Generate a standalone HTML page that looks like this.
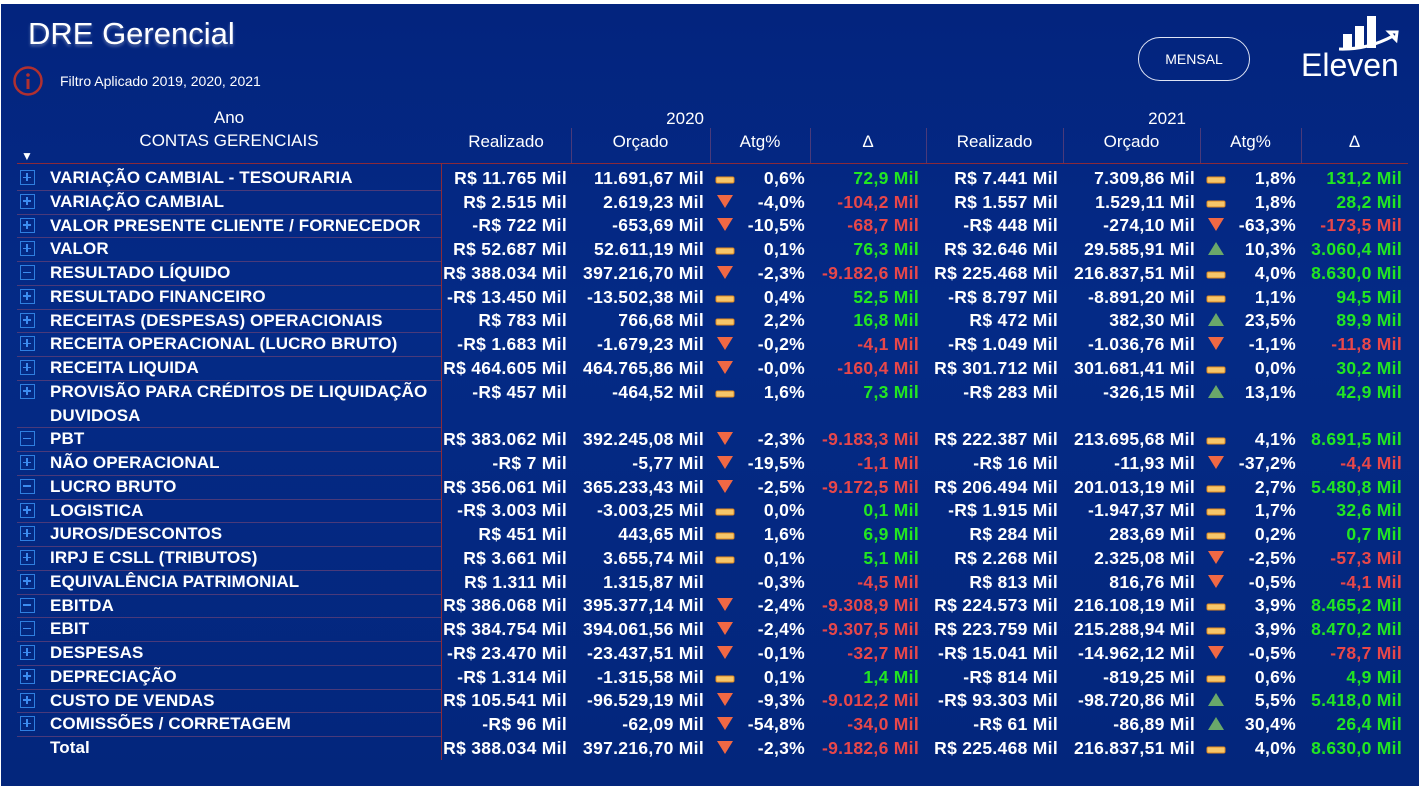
<!DOCTYPE html>
<html><head><meta charset="utf-8">
<style>
*{margin:0;padding:0;box-sizing:border-box}
body{width:1419px;height:786px;overflow:hidden;background:#fff;font-family:"Liberation Sans",sans-serif}
#page{position:absolute;left:1px;top:4px;width:1418px;height:782px;background:linear-gradient(180deg,#03247e 0%,#042a86 40%,#03267c 100%);color:#fff}
.abs{position:absolute;white-space:nowrap}
.t{position:absolute;white-space:nowrap;font-weight:bold;font-size:16px;line-height:20px;text-align:right}
.h{position:absolute;white-space:nowrap;font-size:17px;line-height:20px;text-align:center;color:#fff}
.sep{position:absolute;width:1px;background:#4a3a7a}
</style></head><body>
<div id="page">
  <div class="abs" style="left:27px;top:12px;font-size:31px;color:#fff;text-shadow:0 2px 3px rgba(255,255,255,0.35)">DRE Gerencial</div>
  <svg class="abs" style="left:11px;top:62px" width="32" height="32"><circle cx="16" cy="15" r="13.5" fill="none" stroke="#b03030" stroke-width="2.5"/><rect x="14.5" y="13" width="3" height="10" fill="#b03030"/><circle cx="16" cy="9" r="1.8" fill="#b03030"/></svg>
  <div class="abs" style="left:59px;top:69px;font-size:14px">Filtro Aplicado 2019, 2020, 2021</div>
  <div class="abs" style="left:1137px;top:33px;width:112px;height:44px;border:1px solid #dfe4f5;border-radius:22px;font-size:14px;text-align:center;line-height:42px">MENSAL</div>
  <svg class="abs" style="left:1296px;top:4px" width="120" height="72">
    <rect x="46" y="26" width="9" height="14" fill="#fff"/><rect x="58" y="18" width="9" height="22" fill="#fff"/><rect x="70" y="8" width="9" height="32" fill="#fff"/>
    <path d="M42 41 Q70 42 96 28 L92 24 L100 24 L99 32 L96 29" fill="none" stroke="#fff" stroke-width="3"/>
    <text x="4" y="68" font-family="Liberation Sans,sans-serif" font-size="32" fill="#fff">Eleven</text>
  </svg>
  <div id="tbl"></div>
</div>
<script>
const names=["VARIAÇÃO CAMBIAL - TESOURARIA","VARIAÇÃO CAMBIAL","VALOR PRESENTE CLIENTE / FORNECEDOR","VALOR","RESULTADO LÍQUIDO","RESULTADO FINANCEIRO","RECEITAS (DESPESAS) OPERACIONAIS","RECEITA OPERACIONAL (LUCRO BRUTO)","RECEITA LIQUIDA","PROVISÃO PARA CRÉDITOS DE LIQUIDAÇÃO|DUVIDOSA","PBT","NÃO OPERACIONAL","LUCRO BRUTO","LOGISTICA","JUROS/DESCONTOS","IRPJ E CSLL (TRIBUTOS)","EQUIVALÊNCIA PATRIMONIAL","EBITDA","EBIT","DESPESAS","DEPRECIAÇÃO","CUSTO DE VENDAS","COMISSÕES / CORRETAGEM","Total"];
const expand=["+","+","+","+","-","+","+","+","+","+","-","+","-","+","+","+","+","-","-","+","+","+","+",""];
const real20=["R$ 11.765 Mil","R$ 2.515 Mil","-R$ 722 Mil","R$ 52.687 Mil","R$ 388.034 Mil","-R$ 13.450 Mil","R$ 783 Mil","-R$ 1.683 Mil","R$ 464.605 Mil","-R$ 457 Mil","R$ 383.062 Mil","-R$ 7 Mil","R$ 356.061 Mil","-R$ 3.003 Mil","R$ 451 Mil","R$ 3.661 Mil","R$ 1.311 Mil","R$ 386.068 Mil","R$ 384.754 Mil","-R$ 23.470 Mil","-R$ 1.314 Mil","R$ 105.541 Mil","-R$ 96 Mil","R$ 388.034 Mil"];
const orc20=["11.691,67 Mil","2.619,23 Mil","-653,69 Mil","52.611,19 Mil","397.216,70 Mil","-13.502,38 Mil","766,68 Mil","-1.679,23 Mil","464.765,86 Mil","-464,52 Mil","392.245,08 Mil","-5,77 Mil","365.233,43 Mil","-3.003,25 Mil","443,65 Mil","3.655,74 Mil","1.315,87 Mil","395.377,14 Mil","394.061,56 Mil","-23.437,51 Mil","-1.315,58 Mil","-96.529,19 Mil","-62,09 Mil","397.216,70 Mil"];
const ico20=["dash","down","down","dash","down","dash","dash","down","down","dash","down","down","down","dash","dash","dash","none","down","down","down","dash","down","down","down"];
const atg20=["0,6%","-4,0%","-10,5%","0,1%","-2,3%","0,4%","2,2%","-0,2%","-0,0%","1,6%","-2,3%","-19,5%","-2,5%","0,0%","1,6%","0,1%","-0,3%","-2,4%","-2,4%","-0,1%","0,1%","-9,3%","-54,8%","-2,3%"];
const del20=["72,9 Mil","-104,2 Mil","-68,7 Mil","76,3 Mil","-9.182,6 Mil","52,5 Mil","16,8 Mil","-4,1 Mil","-160,4 Mil","7,3 Mil","-9.183,3 Mil","-1,1 Mil","-9.172,5 Mil","0,1 Mil","6,9 Mil","5,1 Mil","-4,5 Mil","-9.308,9 Mil","-9.307,5 Mil","-32,7 Mil","1,4 Mil","-9.012,2 Mil","-34,0 Mil","-9.182,6 Mil"];
const real21=["R$ 7.441 Mil","R$ 1.557 Mil","-R$ 448 Mil","R$ 32.646 Mil","R$ 225.468 Mil","-R$ 8.797 Mil","R$ 472 Mil","-R$ 1.049 Mil","R$ 301.712 Mil","-R$ 283 Mil","R$ 222.387 Mil","-R$ 16 Mil","R$ 206.494 Mil","-R$ 1.915 Mil","R$ 284 Mil","R$ 2.268 Mil","R$ 813 Mil","R$ 224.573 Mil","R$ 223.759 Mil","-R$ 15.041 Mil","-R$ 814 Mil","-R$ 93.303 Mil","-R$ 61 Mil","R$ 225.468 Mil"];
const orc21=["7.309,86 Mil","1.529,11 Mil","-274,10 Mil","29.585,91 Mil","216.837,51 Mil","-8.891,20 Mil","382,30 Mil","-1.036,76 Mil","301.681,41 Mil","-326,15 Mil","213.695,68 Mil","-11,93 Mil","201.013,19 Mil","-1.947,37 Mil","283,69 Mil","2.325,08 Mil","816,76 Mil","216.108,19 Mil","215.288,94 Mil","-14.962,12 Mil","-819,25 Mil","-98.720,86 Mil","-86,89 Mil","216.837,51 Mil"];
const ico21=["dash","dash","down","up","dash","dash","up","down","dash","up","dash","down","dash","dash","dash","down","down","dash","dash","down","dash","up","up","dash"];
const atg21=["1,8%","1,8%","-63,3%","10,3%","4,0%","1,1%","23,5%","-1,1%","0,0%","13,1%","4,1%","-37,2%","2,7%","1,7%","0,2%","-2,5%","-0,5%","3,9%","3,9%","-0,5%","0,6%","5,5%","30,4%","4,0%"];
const del21=["131,2 Mil","28,2 Mil","-173,5 Mil","3.060,4 Mil","8.630,0 Mil","94,5 Mil","89,9 Mil","-11,8 Mil","30,2 Mil","42,9 Mil","8.691,5 Mil","-4,4 Mil","5.480,8 Mil","32,6 Mil","0,7 Mil","-57,3 Mil","-4,1 Mil","8.465,2 Mil","8.470,2 Mil","-78,7 Mil","4,9 Mil","5.418,0 Mil","26,4 Mil","8.630,0 Mil"];

const page=document.getElementById('tbl');
function mk(cls,txt,style,name,inter){
  const d=document.createElement('div');
  d.className=cls;
  if(txt!==null) d.textContent=txt;
  d.style.cssText=style;
  
  
  page.appendChild(d);
  return d;
}
const off=-4;
mk('h','Ano','left:180px;top:'+(108+off)+'px;width:96px','ano-header','false');
mk('h','CONTAS GERENCIAIS','left:110px;top:'+(131+off)+'px;width:236px','contas-header','true');
mk('h','▼','left:18px;top:'+(146+off)+'px;width:16px;font-size:12px','sort-arrow','true');
mk('h','2020','left:633px;top:'+(109+off)+'px;width:70px;text-align:right','year-2020-header','false');
mk('h','2021','left:1115px;top:'+(109+off)+'px;width:70px;text-align:right','year-2021-header','false');
const heads=[["Realizado",440,570],["Orçado",570,709],["Atg%",709,809],["Δ",809,925],["Realizado",925,1062],["Orçado",1062,1199],["Atg%",1199,1300],["Δ",1300,1407]];
heads.forEach((h,i)=>{
  mk('h',h[0],'left:'+h[1]+'px;top:'+(132+off)+'px;width:'+(h[2]-h[1])+'px','column-header-'+i,'true');
  if(i>0) mk('sep',null,'left:'+h[1]+'px;top:'+(128+off)+'px;height:35px','header-separator','false');
});
mk('sep',null,'left:16px;top:'+(163+off)+'px;width:1391px;height:1px;background:#8a2a3a','header-line','false');
const rh=23.75;
let y=166+off;
const rights=[566,703,804,918,1057,1194,1295,1401];
const iconX=[714,1205];
function icon(type,x,cy,name){
  if(type==='none') return;
  let html='';
  if(type==='dash') html='<svg width="20" height="10"><rect x="1" y="2" width="18" height="6" rx="1.5" fill="#f6c66a" stroke="#e08a20" stroke-width="1"/></svg>';
  if(type==='down') html='<svg width="20" height="16"><polygon points="2,2 18,2 10,15" fill="#f06844"/></svg>';
  if(type==='up') html='<svg width="20" height="16"><polygon points="2,15 18,15 10,2" fill="#6aa86a"/></svg>';
  const h=type==='dash'?10:16;
  const d=mk('abs',null,'left:'+x+'px;top:'+(cy-h/2-2)+'px',name,'false');
  d.innerHTML=html;
}
names.forEach((n,i)=>{
  const lines=n.split('|');
  const h=rh*lines.length;
  const top=y;
  if(expand[i]){
    const e=mk('abs',null,'left:19px;top:'+(top+4)+'px;width:15px;height:15px;border:1.5px solid #2f7fe0;','expand-toggle','true');
    e.innerHTML='<div style="position:absolute;left:2px;top:5.5px;width:8px;height:1.6px;background:#3c8cf0"></div>'+(expand[i]==='+'?'<div style="position:absolute;left:5.2px;top:2px;width:1.6px;height:8px;background:#3c8cf0"></div>':'');
  }
  mk('t',lines.join('\n'),'left:49px;top:'+(top)+'px;text-align:left;white-space:pre;line-height:'+rh+'px;font-size:17px;letter-spacing:0.1px','row-label','true');
  if(i<names.length-1) mk('sep',null,'left:16px;top:'+(top+h)+'px;width:424px;height:1px','row-separator','false');
  const cy=top+rh/2+1;
  const vals=[real20[i],orc20[i],atg20[i],del20[i],real21[i],orc21[i],atg21[i],del21[i]];
  vals.forEach((v,j)=>{
    let col='#fff';
    if(j===3||j===7) col=v.startsWith('-')?'#e8474a':'#22e622';
    mk('t',v,'left:'+(rights[j]-200)+'px;width:200px;top:'+(cy-11)+'px;color:'+col+';font-size:17.5px;letter-spacing:0.3px','cell-value','false');
  });
  icon(ico20[i],iconX[0],cy,'kpi-icon-2020');
  icon(ico21[i],iconX[1],cy,'kpi-icon-2021');
  y+=h;
});
mk('sep',null,'left:440px;top:'+(163+off)+'px;height:'+(y-163-off)+'px;background:#8a2a3a','column-divider','false');
</script>
</body></html>
